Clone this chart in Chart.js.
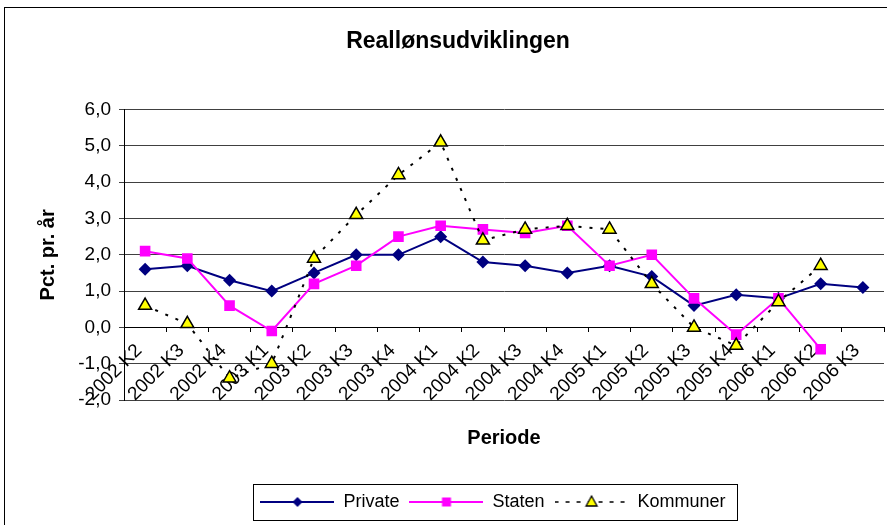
<!DOCTYPE html>
<html>
<head>
<meta charset="utf-8">
<script src="https://cdn.jsdelivr.net/npm/chart.js@4.4.1/dist/chart.umd.min.js"></script>
<style>
  body { margin: 0; background: #fff; }
  #wrap { position: relative; width: 887px; height: 525px; }
</style>
</head>
<body>
<div id="wrap"><canvas id="reallon"></canvas></div>
<script>
// kvartaler
const perioder = ['2002 K2', '2002 K3', '2002 K4', '2003 K1', '2003 K2', '2003 K3', '2003 K4',
  '2004 K1', '2004 K2', '2004 K3', '2004 K4', '2005 K1', '2005 K2', '2005 K3', '2005 K4',
  '2006 K1', '2006 K2', '2006 K3'];

// reallønsudvikling, pct. pr. år
const privat = [1.6, 1.7, 1.3, 1.0, 1.5, 2.0, 2.0, 2.5, 1.8, 1.7, 1.5, 1.7, 1.4, 0.6, 0.9, 0.8, 1.2, 1.1];
const staten = [2.1, 1.9, 0.6, -0.1, 1.2, 1.7, 2.5, 2.8, 2.7, 2.6, 2.8, 1.7, 2.0, 0.8, -0.2, 0.8, -0.6, null];
const kommuner = [0.6, 0.1, -1.4, -1.0, 1.9, 3.1, 4.2, 5.1, 2.4, 2.7, 2.8, 2.7, 1.2, 0.0, -0.5, 0.7, 1.7, null];

const serieNavne = ['Private', 'Staten', 'Kommuner'];

const fontFam = "'Liberation Sans', Arial, sans-serif";
const fmt = v => v.toFixed(1).replace('.', ',');

// legend-ikon: linje med markør i midten
function lavIkon(farve, dash, tegnMarkor) {
  const c = document.createElement('canvas');
  c.width = 74; c.height = 16;
  const g = c.getContext('2d');
  g.strokeStyle = farve;
  g.lineWidth = dash ? 1.5 : 2;
  g.setLineDash(dash || []);
  g.beginPath(); g.moveTo(0, 8); g.lineTo(74, 8); g.stroke();
  g.setLineDash([]);
  tegnMarkor(g, 37, 8);
  return c;
}

const ikoner = [
  lavIkon('#000080', null, (g, x, y) => {
    g.fillStyle = '#000080';
    g.beginPath(); g.moveTo(x, y - 5); g.lineTo(x + 5, y); g.lineTo(x, y + 5); g.lineTo(x - 5, y); g.closePath(); g.fill();
  }),
  lavIkon('#ff00ff', null, (g, x, y) => {
    g.fillStyle = '#ff00ff';
    g.fillRect(x - 4.5, y - 4.5, 9, 9);
  }),
  lavIkon('#000000', [4, 7], (g, x, y) => {
    g.fillStyle = '#ffff00'; g.strokeStyle = '#000'; g.lineWidth = 1.3;
    g.beginPath(); g.moveTo(x, y - 6); g.lineTo(x + 5.5, y + 4); g.lineTo(x - 5.5, y + 4); g.closePath(); g.fill(); g.stroke();
  })
];

// titel og forklaring står lidt til højre i originalen
const flyt = {
  id: 'flyt',
  afterLayout(chart) {
    chart.titleBlock.left += 11; chart.titleBlock.right += 11;
    chart.legend.left += 46; chart.legend.right += 46;
  }
};

// ramme om figuren og om forklaringen
const rammer = {
  id: 'rammer',
  afterDraw(chart) {
    const ctx = chart.ctx;
    ctx.save();
    ctx.strokeStyle = '#000';
    ctx.lineWidth = 1;
    ctx.strokeRect(4.5, 7.5, 900, 600);
    const hb = chart.legend.legendHitBoxes;
    if (hb && hb.length) {
      const l = Math.min(...hb.map(b => b.left)) - 7;
      const r = Math.max(...hb.map(b => b.left + b.width)) + 12;
      const t = Math.min(...hb.map(b => b.top)) - 9;
      const btm = Math.max(...hb.map(b => b.top + b.height)) + 9;
      ctx.strokeRect(Math.round(l) + 0.5, Math.round(t) + 0.5, Math.round(r - l), Math.round(btm - t));
    }
    ctx.restore();
  }
};

const ctx = document.getElementById('reallon').getContext('2d');
new Chart(ctx, {
  type: 'line',
  data: {
    labels: perioder,
    datasets: [{
      label: serieNavne[0],
      data: privat,
      borderColor: '#000080',
      backgroundColor: '#000080',
      borderWidth: 2,
      pointStyle: 'rectRot',
      pointRadius: 6.5,
      pointBorderWidth: 0,
      order: 3
    }, {
      label: serieNavne[1],
      data: staten,
      borderColor: '#ff00ff',
      backgroundColor: '#ff00ff',
      borderWidth: 2,
      pointStyle: 'rect',
      pointRadius: 7.5,
      pointBorderWidth: 0,
      order: 2
    }, {
      label: serieNavne[2],
      data: kommuner,
      borderColor: '#000000',
      borderWidth: 2,
      borderDash: [3, 8],
      backgroundColor: '#ffff00',
      pointStyle: 'triangle',
      pointRadius: 7.5,
      pointBorderColor: '#000000',
      pointBorderWidth: 1.5,
      order: 1
    }]
  },
  options: {
    responsive: true,
    maintainAspectRatio: false,
    animation: false,
    layout: { autoPadding: false, padding: { left: 10, right: 3, top: 0, bottom: 4 } },
    font: { family: fontFam },
    plugins: {
      title: {
        display: true,
        text: 'Reallønsudviklingen',
        color: '#000',
        font: { family: fontFam, size: 23, weight: 'bold' },
        padding: { top: 28, bottom: 54 }
      },
      legend: {
        position: 'bottom',
        labels: {
          font: { family: fontFam, size: 18 },
          color: '#000',
          usePointStyle: true,
          pointStyleWidth: 74,
          padding: 10,
          generateLabels: chart => chart.data.datasets.map((ds, i) => ({
            text: ds.label,
            pointStyle: ikoner[i],
            fillStyle: 'transparent',
            strokeStyle: 'transparent',
            lineWidth: 0,
            fontColor: '#000',
            hidden: false,
            datasetIndex: i
          }))
        }
      },
      tooltip: { enabled: false }
    },
    scales: {
      y: {
        min: -2,
        max: 6,
        ticks: {
          stepSize: 1,
          color: '#000',
          padding: 8,
          font: { family: fontFam, size: 19 },
          callback: v => fmt(v)
        },
        grid: { color: '#404040', lineWidth: 1, tickLength: 5 },
        border: { color: '#000' },
        title: {
          display: true,
          text: 'Pct. pr. år',
          color: '#000',
          font: { family: fontFam, size: 20, weight: 'bold' },
          padding: { top: 26, bottom: 0 }
        },
        afterFit: s => { s.width = 114; }
      },
      x: {
        position: { y: 0 },
        offset: true,
        ticks: {
          color: '#000',
          autoSkip: false,
          minRotation: 45,
          maxRotation: 45,
          padding: 8,
          labelOffset: -6,
          font: { family: fontFam, size: 19 }
        },
        grid: { display: true, drawOnChartArea: false, drawTicks: true, tickLength: 4, offset: true, color: '#000' },
        border: { color: '#000' },
        afterFit: s => { s.paddingLeft = 0; s.paddingRight = 0; }
      },
      x2: {
        type: 'category',
        position: 'bottom',
        labels: perioder,
        ticks: { display: false },
        grid: { display: false, drawTicks: false },
        border: { display: false },
        title: {
          display: true,
          text: 'Periode',
          color: '#000',
          font: { family: fontFam, size: 20, weight: 'bold' },
          padding: { top: 26, bottom: 33 }
        }
      }
    }
  },
  plugins: [flyt, rammer]
});
</script>
</body>
</html>
